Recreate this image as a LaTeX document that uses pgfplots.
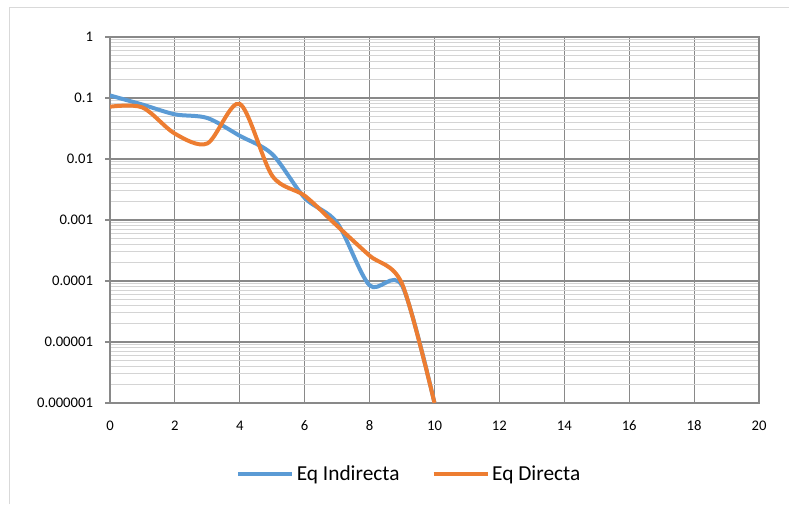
\documentclass[border=0pt]{standalone}
\usepackage{pgfplots}
\pgfplotsset{compat=1.18}
\usepackage{fontspec}
\setmainfont{Carlito}
\definecolor{cblue}{HTML}{5B9BD5}
\definecolor{corange}{HTML}{ED7D31}
\definecolor{majgrid}{HTML}{898989}
\definecolor{mingrid}{HTML}{D4D4D4}
\definecolor{bord}{HTML}{D9D9D9}
\begin{document}
\begin{tikzpicture}
\useasboundingbox (0,0) rectangle (591.75pt,378pt);
\draw[bord, line width=0.75pt] (6.75pt,0pt) -- (6.75pt,372pt) -- (591.75pt,372pt);
\begin{axis}[
  at={(82.5pt,75.75pt)}, anchor=south west,
  scale only axis, width=486.75pt, height=274.5pt,
  ymode=log, xmin=0, xmax=20, ymin=1e-6, ymax=1,
  xtick={0,2,...,20},
  ytick={1e-6,1e-5,1e-4,1e-3,1e-2,1e-1,1},
  yticklabels={0.000001,0.00001,0.0001,0.001,0.01,0.1,1},
  minor ytick={2e-6,3e-6,4e-6,5e-6,6e-6,7e-6,8e-6,9e-6,
               2e-5,3e-5,4e-5,5e-5,6e-5,7e-5,8e-5,9e-5,
               2e-4,3e-4,4e-4,5e-4,6e-4,7e-4,8e-4,9e-4,
               2e-3,3e-3,4e-3,5e-3,6e-3,7e-3,8e-3,9e-3,
               2e-2,3e-2,4e-2,5e-2,6e-2,7e-2,8e-2,9e-2,
               2e-1,3e-1,4e-1,5e-1,6e-1,7e-1,8e-1,9e-1},
  grid=both,
  major grid style={majgrid, line width=0.8pt},
  minor grid style={mingrid, line width=0.75pt},
  axis line style={majgrid, line width=0.8pt},
  ytick style={majgrid, line width=0.8pt},
  xtick style={draw=none},
  tick align=outside, major tick length=3.75pt, minor tick length=0pt,
  ytick pos=left, xtick pos=bottom,
  /pgf/number format/assume math mode=true,
  tick label style={font=\fontsize{11}{13}\selectfont, text=black},
  yticklabel style={xshift=-5.5pt},
  xticklabel style={yshift=-5.5pt, text height=7.5pt, text depth=0pt},
  legend style={at={(0.194,-0.1935)}, anchor=west, draw=none, fill=none,
    font=\fontsize{16}{19}\selectfont, inner sep=0pt,
    /tikz/every even column/.append style={column sep=22pt}},
  legend columns=2,
  legend image code/.code={\draw[#1, line width=3pt] (0pt,0pt) -- (40.5pt,0pt);},
]
\addplot[cblue, line width=3pt, smooth] coordinates {
 (0,0.11) (1,0.078) (2,0.054) (3,0.047) (4,0.024) (5,0.012)
 (6,0.0023) (7,0.0009) (8,0.000085) (9,0.000084) (10,0.000001)};
\addlegendentry{Eq Indirecta}
\addplot[corange, line width=3pt, smooth] coordinates {
 (0,0.072) (1,0.07) (2,0.026) (3,0.018) (4,0.08) (5,0.0053)
 (6,0.0025) (7,0.0008) (8,0.00026) (9,0.00009) (10,0.000001)};
\addlegendentry{Eq Directa}
\end{axis}
\end{tikzpicture}
\end{document}
